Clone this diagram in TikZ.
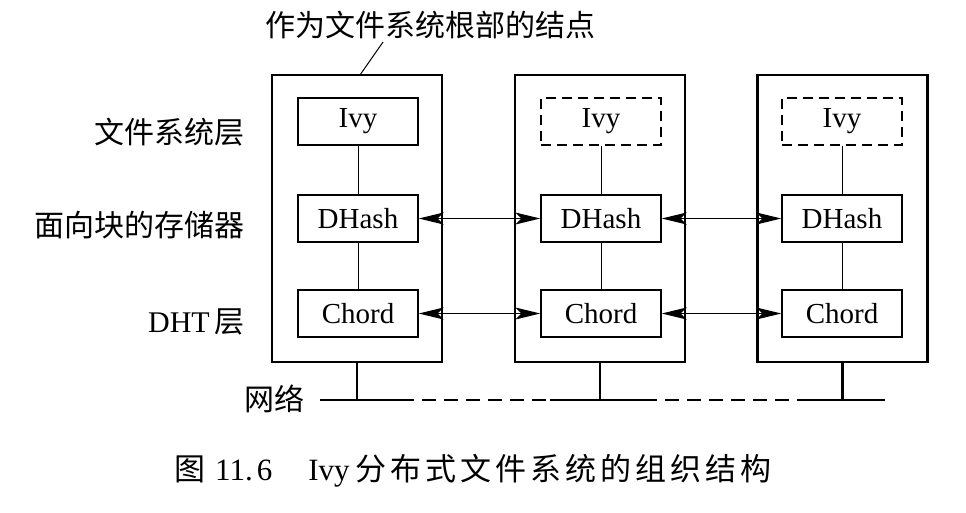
\documentclass[tikz,border=0pt]{standalone}
\usepackage{fontspec}
\setmainfont{Liberation Serif}
\newfontfamily\cjk{Noto Sans CJK SC}
\usetikzlibrary{arrows.meta}
\newcommand\capch[1]{\makebox[35pt][l]{#1}}
\begin{document}
\begin{tikzpicture}[x=1pt,y=-1pt,
  outerbox/.style={draw,line width=2.6pt,minimum width=170pt,minimum height=287pt,inner sep=0pt},
  innerbox/.style={draw,line width=1.4pt,minimum width=120pt,minimum height=47pt,inner sep=0pt,font=\fontsize{29}{34}\selectfont},
  ghostbox/.style={innerbox,dash pattern=on 10pt off 6pt},
  link/.style={line width=1pt},
  peer/.style={line width=1.4pt,{Stealth[length=25pt,width=12pt,inset=6pt]}-{Stealth[length=25pt,width=12pt,inset=6pt]}},
  net/.style={line width=2.6pt},
  netdash/.style={line width=2.6pt,dash pattern=on 14pt off 8pt},
  lbl/.style={font=\fontsize{30}{36}\selectfont\cjk,inner sep=0pt},
  lbllat/.style={font=\fontsize{30}{36}\selectfont,inner sep=0pt}
]
\useasboundingbox (0,0) rectangle (966,512);

% outer node boxes
\node[outerbox] (n1) at (357,218.5) {};
\node[outerbox] (n2) at (600,218.5) {};
\node[outerbox] (n3) at (842.5,218.5) {};

% inner layer boxes
\node[innerbox] (ivy1) at (358,121.5) {Ivy};
\node[innerbox] (dh1) at (358,218.5) {DHash};
\node[innerbox] (ch1) at (358,313.5) {Chord};
\node[ghostbox] (ivy2) at (601,121.5) {Ivy};
\node[innerbox] (dh2) at (601,218.5) {DHash};
\node[innerbox] (ch2) at (601,313.5) {Chord};
\node[ghostbox] (ivy3) at (842,121.5) {Ivy};
\node[innerbox] (dh3) at (842,218.5) {DHash};
\node[innerbox] (ch3) at (842,313.5) {Chord};

% vertical links
\foreach \i in {1,2,3} {
  \draw[link] (ivy\i.south) -- (dh\i.north);
  \draw[link] (dh\i.south) -- (ch\i.north);
}

% peer arrows
\draw[peer] (dh1.east) -- (dh2.west);
\draw[peer] (dh2.east) -- (dh3.west);
\draw[peer] (ch1.east) -- (ch2.west);
\draw[peer] (ch2.east) -- (ch3.west);

% network
\coordinate (a0) at (320,400);
\coordinate (a1) at (400,400);
\coordinate (a2) at (550,400);
\coordinate (a3) at (643,400);
\coordinate (a4) at (800,400);
\coordinate (a5) at (885,400);
\draw[net] (a0) -- (a1);
\draw[netdash] (a1) -- (a2);
\draw[net] (a2) -- (a3);
\draw[netdash] (a3) -- (a4);
\draw[net] (a4) -- (a5);
\draw[net] (n1.south) -- (n1.south |- a0);
\draw[net] (n2.south) -- (n2.south |- a0);
\draw[net] (n3.south) -- (n3.south |- a0);

% labels
\node[lbl] (root) at (430,25) {作为文件系统根部的结点};
\coordinate (rootend) at (360,75);
\draw[line width=1pt] (383,42) -- (rootend);
\node[lbl,anchor=east] (l1) at (245,132) {文件系统层};
\node[lbl,anchor=east] (l2) at (245,225) {面向块的存储器};
\node[lbllat,anchor=east] (l3) at (245,322) {DHT\,{\cjk 层}};
\node[lbl,anchor=east] (l4) at (305,399) {网络};

% caption
\node[lbllat,anchor=west,font=\fontsize{31}{36}\selectfont] (cap) at (174,471) {{\cjk 图}\hspace{10pt}11.\hspace{4pt}6\hspace{36pt}Ivy\hspace{6pt}{\cjk\capch{分}\capch{布}\capch{式}\capch{文}\capch{件}\capch{系}\capch{统}\capch{的}\capch{组}\capch{织}\capch{结}构}};
\end{tikzpicture}
\end{document}
